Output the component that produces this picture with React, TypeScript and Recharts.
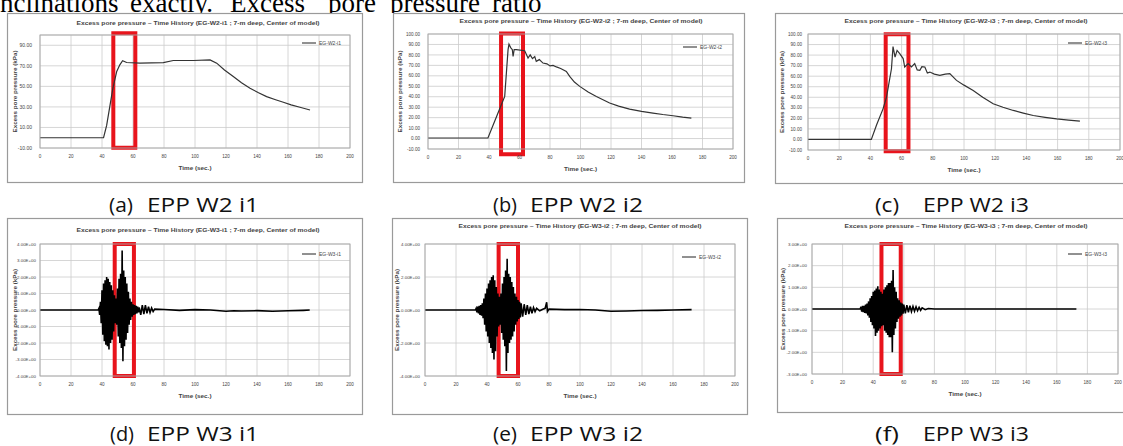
import React from 'react';
import { LineChart, Line, XAxis, YAxis, CartesianGrid, ReferenceArea } from 'recharts';

const timeTicks = [0, 20, 40, 60, 80, 100, 120, 140, 160, 180, 200];

// W2 records: smooth build-up of excess pore pressure (kPa) vs time (sec.)
const timeA = [0, 41, 43, 45, 47, 49.5, 51.5, 53.3, 55.9, 64.5, 72, 79.6, 86, 98.9, 109.7, 114, 119, 124.7, 130, 135.5, 141, 146.2, 152, 157, 162, 167.7, 174.2];
const eppA = [0, 0, 12, 30, 48, 64.5, 71, 75, 73.2, 72.6, 72.8, 73.2, 75.2, 75.2, 75.8, 72.6, 66, 59.6, 53.5, 48.2, 43.8, 40, 37, 34.5, 32, 29.7, 27];

const timeB = [0, 39.3, 45.9, 50.3, 52.5, 53.1, 54.2, 55.3, 55.8, 56.5, 57.9, 63.4, 65.6, 67, 68.5, 70, 71, 73, 75.4, 78, 80, 82, 84.2, 87, 90.7, 92.9, 96, 99.5, 105, 110.4, 119.1, 125, 132.2, 140, 147.5, 154, 160.7, 167, 172.7];
const eppB = [0.5, 0.5, 24.4, 40.3, 85, 90.3, 87, 85, 78.5, 85, 85, 84, 77, 80, 76.5, 78.5, 73.8, 75.5, 72.2, 71.5, 69.5, 70, 68.5, 67, 64.2, 59.4, 54, 49.9, 44.5, 40.3, 34, 31, 28.2, 26, 24.4, 23, 21.8, 20.5, 19.6];

const timeC = [0, 40.6, 44, 48.1, 50.3, 51.5, 53.5, 54.5, 55.8, 57.1, 58.8, 61, 62, 64.2, 66.3, 68.4, 70, 71.7, 73, 74.9, 76.5, 78.1, 81, 84.5, 88, 90.9, 95.2, 100, 105.9, 112, 118.7, 125, 131.6, 138, 144.4, 152, 159.4, 167, 174.3];
const eppC = [0, 0, 14, 29, 40, 50, 67, 88, 78, 84.4, 81.3, 76.7, 68.7, 71.9, 68.7, 71.9, 66, 65.6, 69, 68.7, 63, 63.9, 62, 60.8, 62, 62.4, 56, 51.5, 46.5, 40, 33.8, 30.5, 27.5, 25, 22.7, 21, 19.5, 18.3, 17.3];

// W3 records: oscillating EPP, read every 0.5 s during shaking
const sampleStep = 0.5;

const burstStartD = 38;
const burstD = [
  0.1, -0.3, 0.5, -0.8, 1.2, -1.5, 1.6, -1.9, 1.8, -2.1,
  2.0, -2.2, 1.9, -2.4, 1.7, -2.0, 1.5, -1.8, 1.2, -1.3,
  0.9, -0.8, 0.7, -0.9, 1.3, -1.6, 1.9, -2.0, 2.2, -2.3,
  3.6, -3.1, 2.4, -2.2, 2.0, -1.8, 1.6, -1.4, 1.1, -0.9,
  0.7, -0.6, 0.5, -0.4, 0.35, -0.3, 0.3, -0.25, 0.25, -0.2,
  0.2, -0.15, 0.15,
];
const tailTimeD = [65, 66, 67, 68, 69, 70, 71, 72, 73, 74, 80, 90, 100, 110, 120, 125, 130, 140, 150, 160, 170, 174];
const tailD = [-0.3, 0.3, -0.25, 0.3, -0.2, 0.2, -0.15, 0.12, -0.1, 0.05, 0.03, -0.02, 0.02, 0, -0.08, -0.05, -0.06, -0.04, -0.08, -0.05, -0.02, 0];

const burstStartE = 33;
const burstE = [
  0.1, -0.15, 0.2, -0.2, 0.25, -0.3, 0.3, -0.35, 0.4, -0.5,
  0.7, -0.9, 1.0, -1.3, 1.3, -1.6, 1.6, -2.0, 1.8, -2.3,
  2.0, -2.6, 2.1, -3.0, 1.8, -2.5, 1.4, -1.6, 1.0, -1.0,
  0.8, -0.9, 1.0, -1.4, 1.6, -1.8, 2.0, -2.2, 2.4, -3.7,
  3.1, -2.6, 2.2, -2.0, 2.0, -1.8, 1.7, -1.6, 1.4, -1.3,
  1.0, -0.9, 0.8, -0.7, 0.6, -0.55, 0.5, -0.45, 0.4,
];
const tailTimeE = [63, 64, 65, 66, 67, 68, 69, 70, 71, 72, 74, 76, 77.5, 78.5, 79, 80, 90, 100, 110, 120, 130, 140, 150, 160, 172];
const tailE = [-0.4, 0.35, -0.3, 0.3, -0.25, 0.2, -0.2, 0.15, -0.1, 0.1, -0.05, 0.05, 0.1, 0.47, -0.1, 0.05, 0.02, 0.03, 0, -0.08, -0.06, -0.03, -0.02, 0, 0.02];

const burstStartF = 32;
const burstF = [
  0.1, -0.12, 0.15, -0.15, 0.15, -0.18, 0.2, -0.2, 0.25, -0.3,
  0.35, -0.4, 0.5, -0.6, 0.6, -0.75, 0.8, -0.9, 0.85, -1.25,
  0.95, -1.1, 1.05, -1.0, 0.9, -0.9, 0.8, -0.8, 0.7, -0.75,
  0.9, -1.0, 1.0, -1.1, 1.1, -1.2, 1.2, -1.3, 1.2, -1.3,
  1.3, -2.0, 1.8, -1.2, 1.0, -0.9, 0.8, -0.6, 0.5, -0.45,
  0.4, -0.35, 0.3, -0.3, 0.25, -0.22, 0.2,
];
const tailTimeF = [61, 62, 63, 64, 65, 66, 67, 68, 69, 70, 71, 72, 74, 76, 80, 100, 120, 140, 160, 172.8];
const tailF = [-0.2, 0.18, -0.15, 0.15, -0.12, 0.12, -0.1, 0.1, -0.08, 0.08, -0.06, 0.05, -0.03, 0.02, 0, 0, 0, 0, 0, 0];

// y ticks
const ticksA = [-10, 10, 30, 50, 70, 90];
const ticksBC = [-10, 0, 10, 20, 30, 40, 50, 60, 70, 80, 90, 100];
const ticksD = [-4, -3, -2, -1, 0, 1, 2, 3, 4];
const ticksE = [-4, -2, 0, 2, 4];
const ticksF = [-3, -2, -1, 0, 1, 2, 3];

type Pt = { t: number; v: number };
const pts = (ts: number[], vs: number[]): Pt[] => ts.map((t, i) => ({ t, v: vs[i] }));
const shaking = (start: number, burst: number[], tailT: number[], tailV: number[]): Pt[] => [
  { t: 0, v: 0 },
  { t: start - sampleStep, v: 0 },
  ...burst.map((v, i) => ({ t: start + i * sampleStep, v })),
  ...pts(tailT, tailV),
];

const fixed2 = (v: number) => v.toFixed(2);
const sci = (v: number) => v.toExponential(2).toUpperCase().replace(/E([+-])(\d)$/, 'E$10$2');

const FONT = 'Liberation Sans, Arial, sans-serif';
const titleOf = (id: string) => `Excess pore pressure ~ Time History (${id} ; 7-m deep, Center of model)`;

type Panel = {
  id: string;
  box: { x: number; y: number; w: number; h: number };
  plot: { x0: number; y0: number; x1: number; y1: number };
  titleX: number;
  titleY: number;
  legendX: number;
  legendY: number;
  yLabelX: number;
  yDomain: [number, number];
  yTicks: number[];
  fmt: (v: number) => string;
  tickGap: number;
  tickFont: number;
  data: Pt[];
  mark: [number, number, number, number];
  color: string;
  lineW: number;
  tag: string;
  caption: string;
  capX: number;
  bodyX: number;
  bodyLen: number;
  capY: number;
};

const panels: Panel[] = [
  {
    id: 'EG-W2-i1', box: { x: 7, y: 13, w: 356, h: 170 }, plot: { x0: 40, y0: 35, x1: 350, y1: 148 },
    titleX: 198, titleY: 23, legendX: 302, legendY: 43, yLabelX: 15,
    yDomain: [-10, 100], yTicks: ticksA, fmt: fixed2, tickGap: 8, tickFont: 5,
    data: pts(timeA, eppA), mark: [47.3, 61.5, 101.8, -9.7], color: '#333', lineW: 1.2,
    tag: '(a)', caption: 'EPP W2 i1', capX: 109, bodyX: 147, bodyLen: 112, capY: 212,
  },
  {
    id: 'EG-W2-i2', box: { x: 393, y: 13, w: 352, h: 170 }, plot: { x0: 428, y0: 34, x1: 733, y1: 149 },
    titleX: 581, titleY: 21, legendX: 683, legendY: 47, yLabelX: 400,
    yDomain: [-10, 100], yTicks: ticksBC, fmt: fixed2, tickGap: 8, tickFont: 4.6,
    data: pts(timeB, eppB), mark: [47.9, 62.3, 100.5, -15], color: '#333', lineW: 1.2,
    tag: '(b)', caption: 'EPP W2 i2', capX: 493, bodyX: 530, bodyLen: 113, capY: 212,
  },
  {
    id: 'EG-W2-i3', box: { x: 775, y: 13, w: 353, h: 171 }, plot: { x0: 808, y0: 34, x1: 1120, y1: 150 },
    titleX: 966, titleY: 21, legendX: 1068, legendY: 43, yLabelX: 782,
    yDomain: [-10, 100], yTicks: ticksBC, fmt: fixed2, tickGap: 6, tickFont: 4.6,
    data: pts(timeC, eppC), mark: [49.8, 64.4, 99.8, -11.3], color: '#333', lineW: 1.2,
    tag: '(c)', caption: 'EPP W2 i3', capX: 875, bodyX: 923, bodyLen: 106, capY: 212,
  },
  {
    id: 'EG-W3-i1', box: { x: 7, y: 218, w: 356, h: 197 }, plot: { x0: 40, y0: 244, x1: 350, y1: 376 },
    titleX: 198, titleY: 230, legendX: 302, legendY: 254, yLabelX: 15,
    yDomain: [-4, 4], yTicks: ticksD, fmt: sci, tickGap: 4, tickFont: 4.4,
    data: shaking(burstStartD, burstD, tailTimeD, tailD), mark: [48.2, 60.6, 4, -4], color: '#000', lineW: 1.6,
    tag: '(d)', caption: 'EPP W3 i1', capX: 110, bodyX: 147, bodyLen: 112, capY: 441,
  },
  {
    id: 'EG-W3-i2', box: { x: 392, y: 218, w: 356, h: 197 }, plot: { x0: 425, y0: 244, x1: 735, y1: 376 },
    titleX: 580, titleY: 226, legendX: 682, legendY: 257, yLabelX: 397,
    yDomain: [-4, 4], yTicks: ticksE, fmt: sci, tickGap: 5, tickFont: 4.4,
    data: shaking(burstStartE, burstE, tailTimeE, tailE), mark: [47.5, 60, 4, -4], color: '#000', lineW: 1.6,
    tag: '(e)', caption: 'EPP W3 i2', capX: 493, bodyX: 530, bodyLen: 113, capY: 441,
  },
  {
    id: 'EG-W3-i3', box: { x: 777, y: 218, w: 350, h: 195 }, plot: { x0: 812, y0: 244, x1: 1118, y1: 374 },
    titleX: 966, titleY: 226, legendX: 1068, legendY: 254, yLabelX: 783,
    yDomain: [-3, 3], yTicks: ticksF, fmt: sci, tickGap: 5, tickFont: 4.4,
    data: shaking(burstStartF, burstF, tailTimeF, tailF), mark: [45.4, 58, 3, -3], color: '#000', lineW: 1.6,
    tag: '(f)', caption: 'EPP W3 i3', capX: 875, bodyX: 923, bodyLen: 106, capY: 441,
  },
];

// words of the body text line that is cut off above the figure
const topWords = ['inclinations', 'exactly.', 'Excess', 'pore', 'pressure', 'ratio'];
const topWordX = [-7.5, 130, 230, 328, 390, 492];

function EppChart({ p }: { p: Panel }) {
  const { box, plot } = p;
  return (
    <div style={{ position: 'absolute', left: box.x, top: box.y }}>
      <LineChart
        width={box.w}
        height={box.h}
        data={p.data}
        margin={{ top: plot.y0 - box.y, right: box.x + box.w - plot.x1, bottom: 0, left: 0 }}
      >
        <CartesianGrid stroke="#cccccc" strokeWidth={0.8} />
        <XAxis
          type="number"
          dataKey="t"
          domain={[0, 200]}
          ticks={timeTicks}
          interval={0}
          allowDataOverflow
          height={box.y + box.h - plot.y1}
          axisLine={false}
          tickLine={false}
          tickSize={0}
          tickMargin={6.5}
          tick={{ fontSize: 4.6, fill: '#444', fontFamily: FONT }}
        />
        <YAxis
          type="number"
          domain={p.yDomain}
          ticks={p.yTicks}
          interval={0}
          allowDataOverflow
          width={plot.x0 - box.x}
          tickFormatter={p.fmt}
          axisLine={false}
          tickLine={false}
          tickSize={0}
          tickMargin={p.tickGap}
          tick={{ fontSize: p.tickFont, fill: '#444', fontFamily: FONT }}
        />
        <Line type="linear" dataKey="v" stroke={p.color} strokeWidth={p.lineW} dot={false} isAnimationActive={false} />
        <ReferenceArea
          x1={p.mark[0]}
          x2={p.mark[1]}
          y1={p.mark[2]}
          y2={p.mark[3]}
          ifOverflow="visible"
          fill="none"
          stroke="#e8141c"
          strokeWidth={4}
        />
      </LineChart>
    </div>
  );
}

export default function App() {
  return (
    <div style={{ position: 'absolute', left: 0, top: 0, width: 1123, height: 446, overflow: 'hidden', background: '#fff' }}>
      <svg width={1123} height={12.5} style={{ position: 'absolute', left: 0, top: 0 }}>
        {topWords.map((w, i) => (
          <text key={w} x={topWordX[i]} y={11.5} fontFamily="Liberation Serif, Times New Roman, serif" fontSize={27} fill="#000">
            {w}
          </text>
        ))}
      </svg>
      {panels.map((p) => (
        <EppChart key={p.id} p={p} />
      ))}
      <svg width={1123} height={446} style={{ position: 'absolute', left: 0, top: 0, pointerEvents: 'none' }}>
        {panels.map((p) => {
          const { box, plot } = p;
          const cx = (plot.x0 + plot.x1) / 2;
          const cy = (plot.y0 + plot.y1) / 2;
          return (
            <g key={p.id} fontFamily={FONT}>
              <rect x={box.x + 0.5} y={box.y + 0.5} width={box.w - 1} height={box.h - 1} fill="none" stroke="#9a9a9a" strokeWidth={1.2} />
              <rect x={plot.x0} y={plot.y0} width={plot.x1 - plot.x0} height={plot.y1 - plot.y0} fill="none" stroke="#a8a8a8" strokeWidth={0.9} />
              <text x={p.titleX} y={p.titleY + 2} textAnchor="middle" fontSize={6} fontWeight={700} fill="#444" textLength={243} lengthAdjust="spacingAndGlyphs">
                {titleOf(p.id)}
              </text>
              <line x1={p.legendX} x2={p.legendX + 14} y1={p.legendY} y2={p.legendY} stroke="#222" strokeWidth={1} />
              <text x={p.legendX + 17} y={p.legendY + 1.8} fontSize={5} fill="#444">
                {p.id}
              </text>
              <text x={cx} y={plot.y1 + 22} textAnchor="middle" fontSize={6} fontWeight={700} fill="#444" textLength={33} lengthAdjust="spacingAndGlyphs">
                Time (sec.)
              </text>
              <text
                transform={`translate(${p.yLabelX},${cy}) rotate(-90)`}
                textAnchor="middle"
                dominantBaseline="central"
                fontSize={6}
                fontWeight={700}
                fill="#444"
                textLength={82}
                lengthAdjust="spacingAndGlyphs"
              >
                Excess pore pressure (kPa)
              </text>
              <text x={p.capX} y={p.capY} fontFamily="Open Sans, sans-serif" fontSize={19.5} fill="#111" textLength={24} lengthAdjust="spacingAndGlyphs">
                {p.tag}
              </text>
              <text x={p.bodyX} y={p.capY} fontFamily="Open Sans, sans-serif" fontSize={19.5} fill="#111" textLength={p.bodyLen} lengthAdjust="spacingAndGlyphs">
                {p.caption}
              </text>
            </g>
          );
        })}
      </svg>
    </div>
  );
}
